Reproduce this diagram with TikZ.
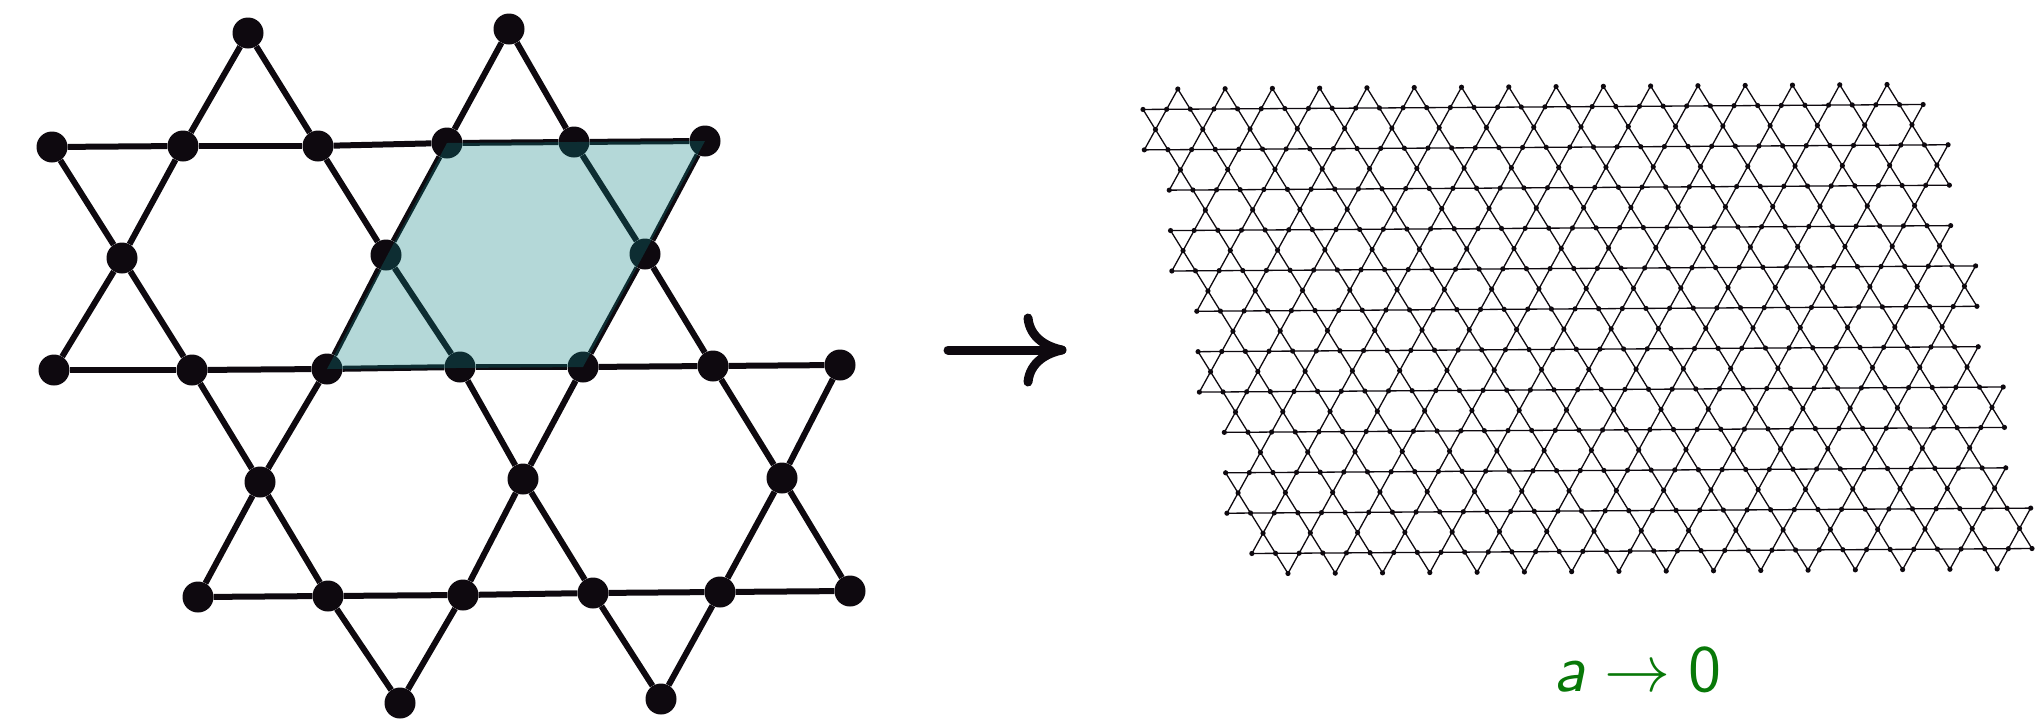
\documentclass[tikz,border=0pt]{standalone}
\usepackage{tikz}
\definecolor{ink}{RGB}{14,9,15}
\definecolor{cellfill}{rgb}{0.05,0.5,0.5}
\definecolor{lblgreen}{RGB}{8,120,8}
\begin{document}
\begin{tikzpicture}[x=1pt,y=-1pt,
  bigdot/.style={circle,fill=ink,inner sep=0pt,minimum size=31pt},
  bigedge/.style={draw=ink,line width=6pt},
  smalledge/.style={draw=ink,line width=1.3pt},
  bigarrow/.style={draw=ink,line width=9pt,line cap=round},
]
\useasboundingbox (0,0) rectangle (2039,724);

% ---------- left kagome patch ----------
\foreach \n/\x/\y in {T1/248/33, T2/509/29,
  A1/52/147, A2/183/146, A3/318/146, A4/447/143, A5/574/142, A6/705/141,
  M1/122/258, M2/386/255, M3/645/254,
  B1/54/370, B2/192/370, B3/327/369, B4/460/367, B5/583/367, B6/713/366, B7/840/365,
  N1/260/482, N2/523/479, N3/782/478,
  C1/198/597, C2/328/596, C3/463/595, C4/593/593, C5/720/592, C6/850/591,
  D1/400/703, D2/661/699}
  \node[bigdot] (\n) at (\x,\y) {};

\foreach \a/\b in {A1/A2, A2/A3, A3/A4, A4/A5, A5/A6,
  B1/B2, B2/B3, B3/B4, B4/B5, B5/B6, B6/B7,
  C1/C2, C2/C3, C3/C4, C4/C5, C5/C6,
  T1/A2, T1/A3, T2/A4, T2/A5,
  M1/A1, M1/A2, M1/B1, M1/B2,
  M2/A3, M2/A4, M2/B3, M2/B4,
  M3/A5, M3/A6, M3/B5, M3/B6,
  N1/B2, N1/B3, N1/C1, N1/C2,
  N2/B4, N2/B5, N2/C3, N2/C4,
  N3/B6, N3/B7, N3/C5, N3/C6,
  D1/C2, D1/C3, D2/C4, D2/C5}
  \draw[bigedge] (\a) -- (\b);

\fill[cellfill,fill opacity=0.31] (A4.center) -- (A6.center) -- (B5.center) -- (B3.center) -- cycle;

% ---------- arrow ----------
\coordinate (arS) at (948,350);
\coordinate (arE) at (1056,350);
\coordinate (arT) at (1062,350);
\coordinate (arU) at (1028,318);
\coordinate (arD) at (1028,382);
\draw[bigarrow] (arS) -- (arE);
\draw[bigarrow] (arT) .. controls (1047,347) and (1030,338) .. (arU);
\draw[bigarrow] (arT) .. controls (1047,353) and (1030,362) .. (arD);

% ---------- right kagome lattice ----------
\foreach \v in {0,...,11}{
  \pgfmathtruncatemacro\ul{floor((\v+1)/3)}
  \pgfmathtruncatemacro\ur{33+floor((\v+2)/3)}
  \foreach \u in {\ul,...,\ur}{
    \coordinate (R-\u-\v) at ({1143+23.64*\u+1.3*\v},{109.45+40.42*\v-0.15*\u});
  }
  \draw[smalledge] (R-\ul-\v) -- (R-\ur-\v);
}
\foreach \g in {-1,...,11}{
  \ifnum\g=-1\relax \def\lo{0}\def\hi{33}\else
    \ifnum\g=11\relax \def\lo{4}\def\hi{37}\else
      \pgfmathtruncatemacro\lo{floor((\g+2)/3)}\pgfmathtruncatemacro\hi{33+\lo}\fi\fi
  \pgfmathtruncatemacro\him{\hi-1}
  \pgfmathtruncatemacro\gi{\g+1}
  \foreach \a in {\lo,...,\him}{
    \pgfmathtruncatemacro\pp{mod(\a-\g+4,2)}
    \ifnum\pp=0\relax
      \pgfmathtruncatemacro\an{\a+1}
      \coordinate (M-\a-\gi) at ({1143+23.64*(\a+0.5)+1.3*(\g+0.5)},{109.45+40.42*(\g+0.5)-0.15*(\a+0.5)});
      \ifnum\g>-1\relax \draw[smalledge] (R-\a-\g) -- (M-\a-\gi) -- (R-\an-\g); \fi
      \ifnum\g<11\relax \draw[smalledge] (R-\a-\gi) -- (M-\a-\gi) -- (R-\an-\gi); \fi
      \fill[ink] (M-\a-\gi) circle[radius=2.6];
    \fi
  }
}
\foreach \v in {0,...,11}{
  \pgfmathtruncatemacro\ul{floor((\v+1)/3)}
  \pgfmathtruncatemacro\ur{33+floor((\v+2)/3)}
  \foreach \u in {\ul,...,\ur}{
    \fill[ink] (R-\u-\v) circle[radius=2.6];
  }
}

% ---------- label ----------
\node[text=lblgreen,scale=6.6,anchor=base west,inner sep=0pt] (lbl) at (1552,691)
  {$\textsf{\textit{a}}\rightarrow\textsf{0}$};
\end{tikzpicture}
\end{document}
